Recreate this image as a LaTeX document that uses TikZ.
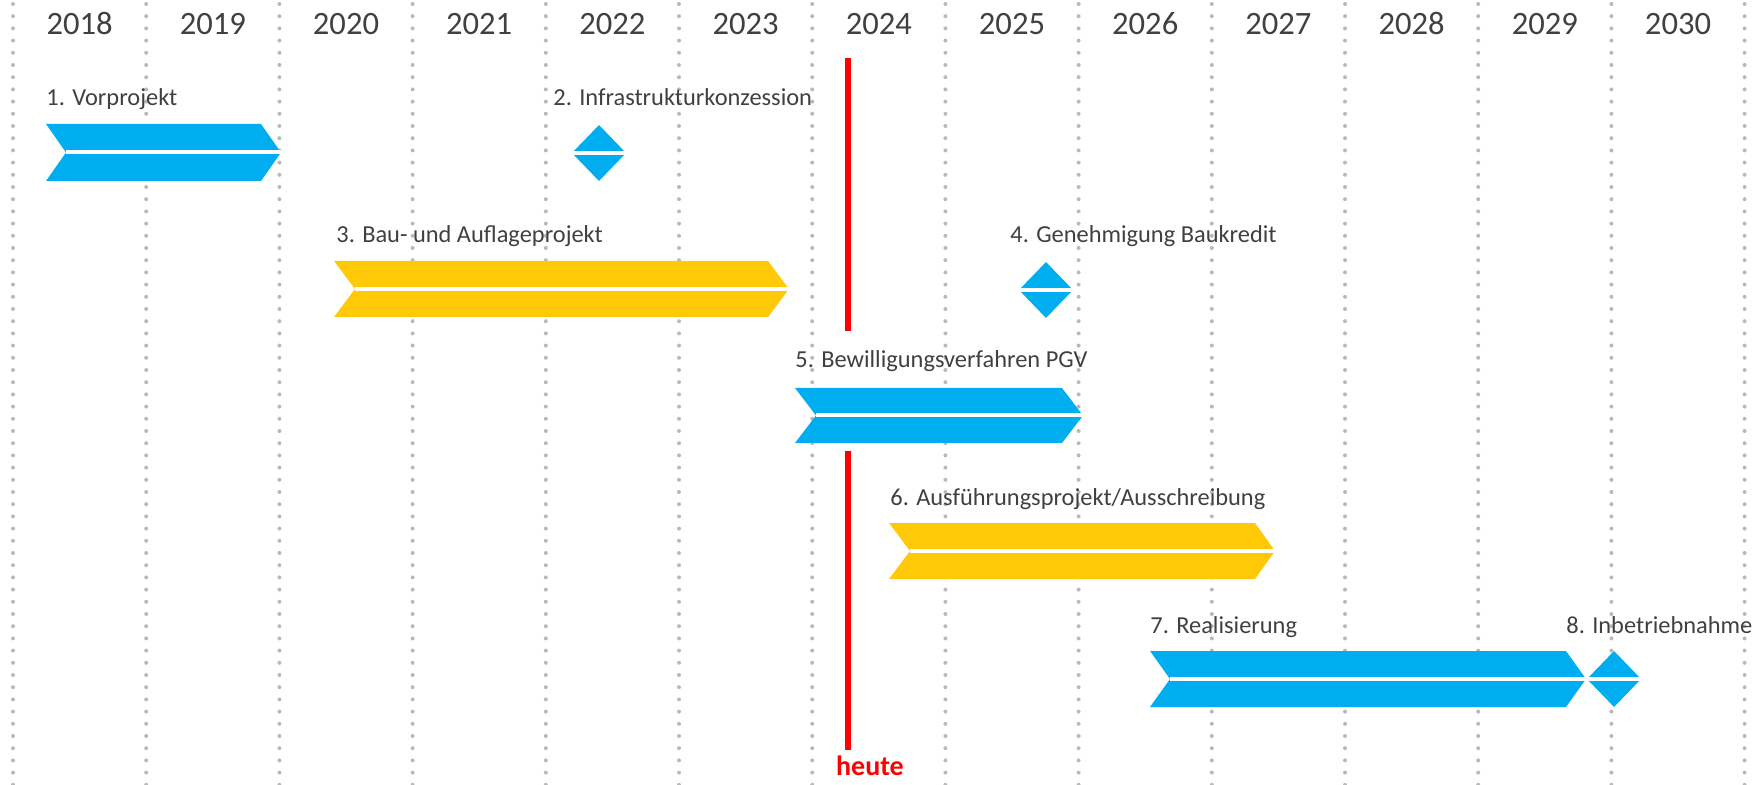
\documentclass[tikz,border=0pt]{standalone}
\usepackage{fontspec}
\setmainfont{Carlito}
\definecolor{balkenblau}{RGB}{0,174,239}
\definecolor{balkengelb}{RGB}{255,201,8}
\definecolor{rastergrau}{RGB}{185,185,185}
\definecolor{textgrau}{RGB}{64,64,64}

\begin{document}
\begin{tikzpicture}[x=0.5pt,y=-0.5pt]
\tikzset{jahr/.style={text=textgrau, font=\fontsize{16.3}{18}\selectfont, anchor=base, inner sep=0pt}}
\tikzset{phase/.style={text=textgrau, font=\fontsize{12.2}{14}\selectfont, anchor=base west, inner sep=0pt}}
\tikzset{raster/.style={rastergrau, line width=2pt, line cap=round, dash pattern=on 0pt off 6.1pt}}
\tikzset{trenner/.style={white, line width=2pt}}
\useasboundingbox (0,0) rectangle (1760,785);
\foreach \k in {0,...,13} \draw[raster] (13+133.2*\k,4) -- (13+133.2*\k,785);
\node[jahr] (J2018) at (79.6,35) {2018};
\node[jahr] (J2019) at (212.8,35) {2019};
\node[jahr] (J2020) at (346,35) {2020};
\node[jahr] (J2021) at (479.2,35) {2021};
\node[jahr] (J2022) at (612.4,35) {2022};
\node[jahr] (J2023) at (745.6,35) {2023};
\node[jahr] (J2024) at (878.8,35) {2024};
\node[jahr] (J2025) at (1012,35) {2025};
\node[jahr] (J2026) at (1145.2,35) {2026};
\node[jahr] (J2027) at (1278.4,35) {2027};
\node[jahr] (J2028) at (1411.6,35) {2028};
\node[jahr] (J2029) at (1544.8,35) {2029};
\node[jahr] (J2030) at (1678,35) {2030};
% Balken
\fill[balkenblau] (46,124) -- (261,124) -- (281,152.5) -- (261,181) -- (46,181) -- (66,152.5) -- cycle;
\draw[trenner] (66,152.5) -- (281,152.5);
\fill[balkengelb] (334,261) -- (768,261) -- (789,289) -- (768,317) -- (334,317) -- (355,289) -- cycle;
\draw[trenner] (355,289) -- (789,289);
\fill[balkenblau] (795,388) -- (1062,388) -- (1083,415.5) -- (1062,443) -- (795,443) -- (816,415.5) -- cycle;
\draw[trenner] (816,415.5) -- (1083,415.5);
\fill[balkengelb] (889,523) -- (1255,523) -- (1275,551) -- (1255,579) -- (889,579) -- (910,551) -- cycle;
\draw[trenner] (910,551) -- (1275,551);
\fill[balkenblau] (1150,651) -- (1566,651) -- (1586,679) -- (1566,707) -- (1150,707) -- (1170,679) -- cycle;
\draw[trenner] (1170,679) -- (1586,679);
% Meilensteine
\fill[balkenblau] (599,125) -- (626,153) -- (599,181) -- (572,153) -- cycle;
\draw[trenner] (572,153) -- (626,153);
\fill[balkenblau] (1046,262) -- (1073,290) -- (1046,318) -- (1019,290) -- cycle;
\draw[trenner] (1019,290) -- (1073,290);
\fill[balkenblau] (1614,651) -- (1641,679) -- (1614,707) -- (1587,679) -- cycle;
\draw[trenner] (1586,679) -- (1641,679);
\node[phase] (P1) at (46,106) {1. Vorprojekt};
\node[phase] (P2) at (553,106) {2. Infrastrukturkonzession};
\node[phase] (P3) at (336,243) {3. Bau- und Auflageprojekt};
\node[phase] (P4) at (1010,243) {4. Genehmigung Baukredit};
\node[phase] (P5) at (795,368) {5. Bewilligungsverfahren PGV};
\node[phase] (P6) at (890,505) {6. Ausführungsprojekt/Ausschreibung};
\node[phase] (P7) at (1150,633) {7. Realisierung};
\node[phase] (P8) at (1566,633) {8. Inbetriebnahme};
% heute
\draw[red, line width=2.75pt] (848,58) -- (848,331) (848,451) -- (848,750);
\node[text=red, font=\bfseries\fontsize{14}{16}\selectfont, anchor=base, inner sep=0pt] (heute) at (870,775) {heute};
\end{tikzpicture}
\end{document}
